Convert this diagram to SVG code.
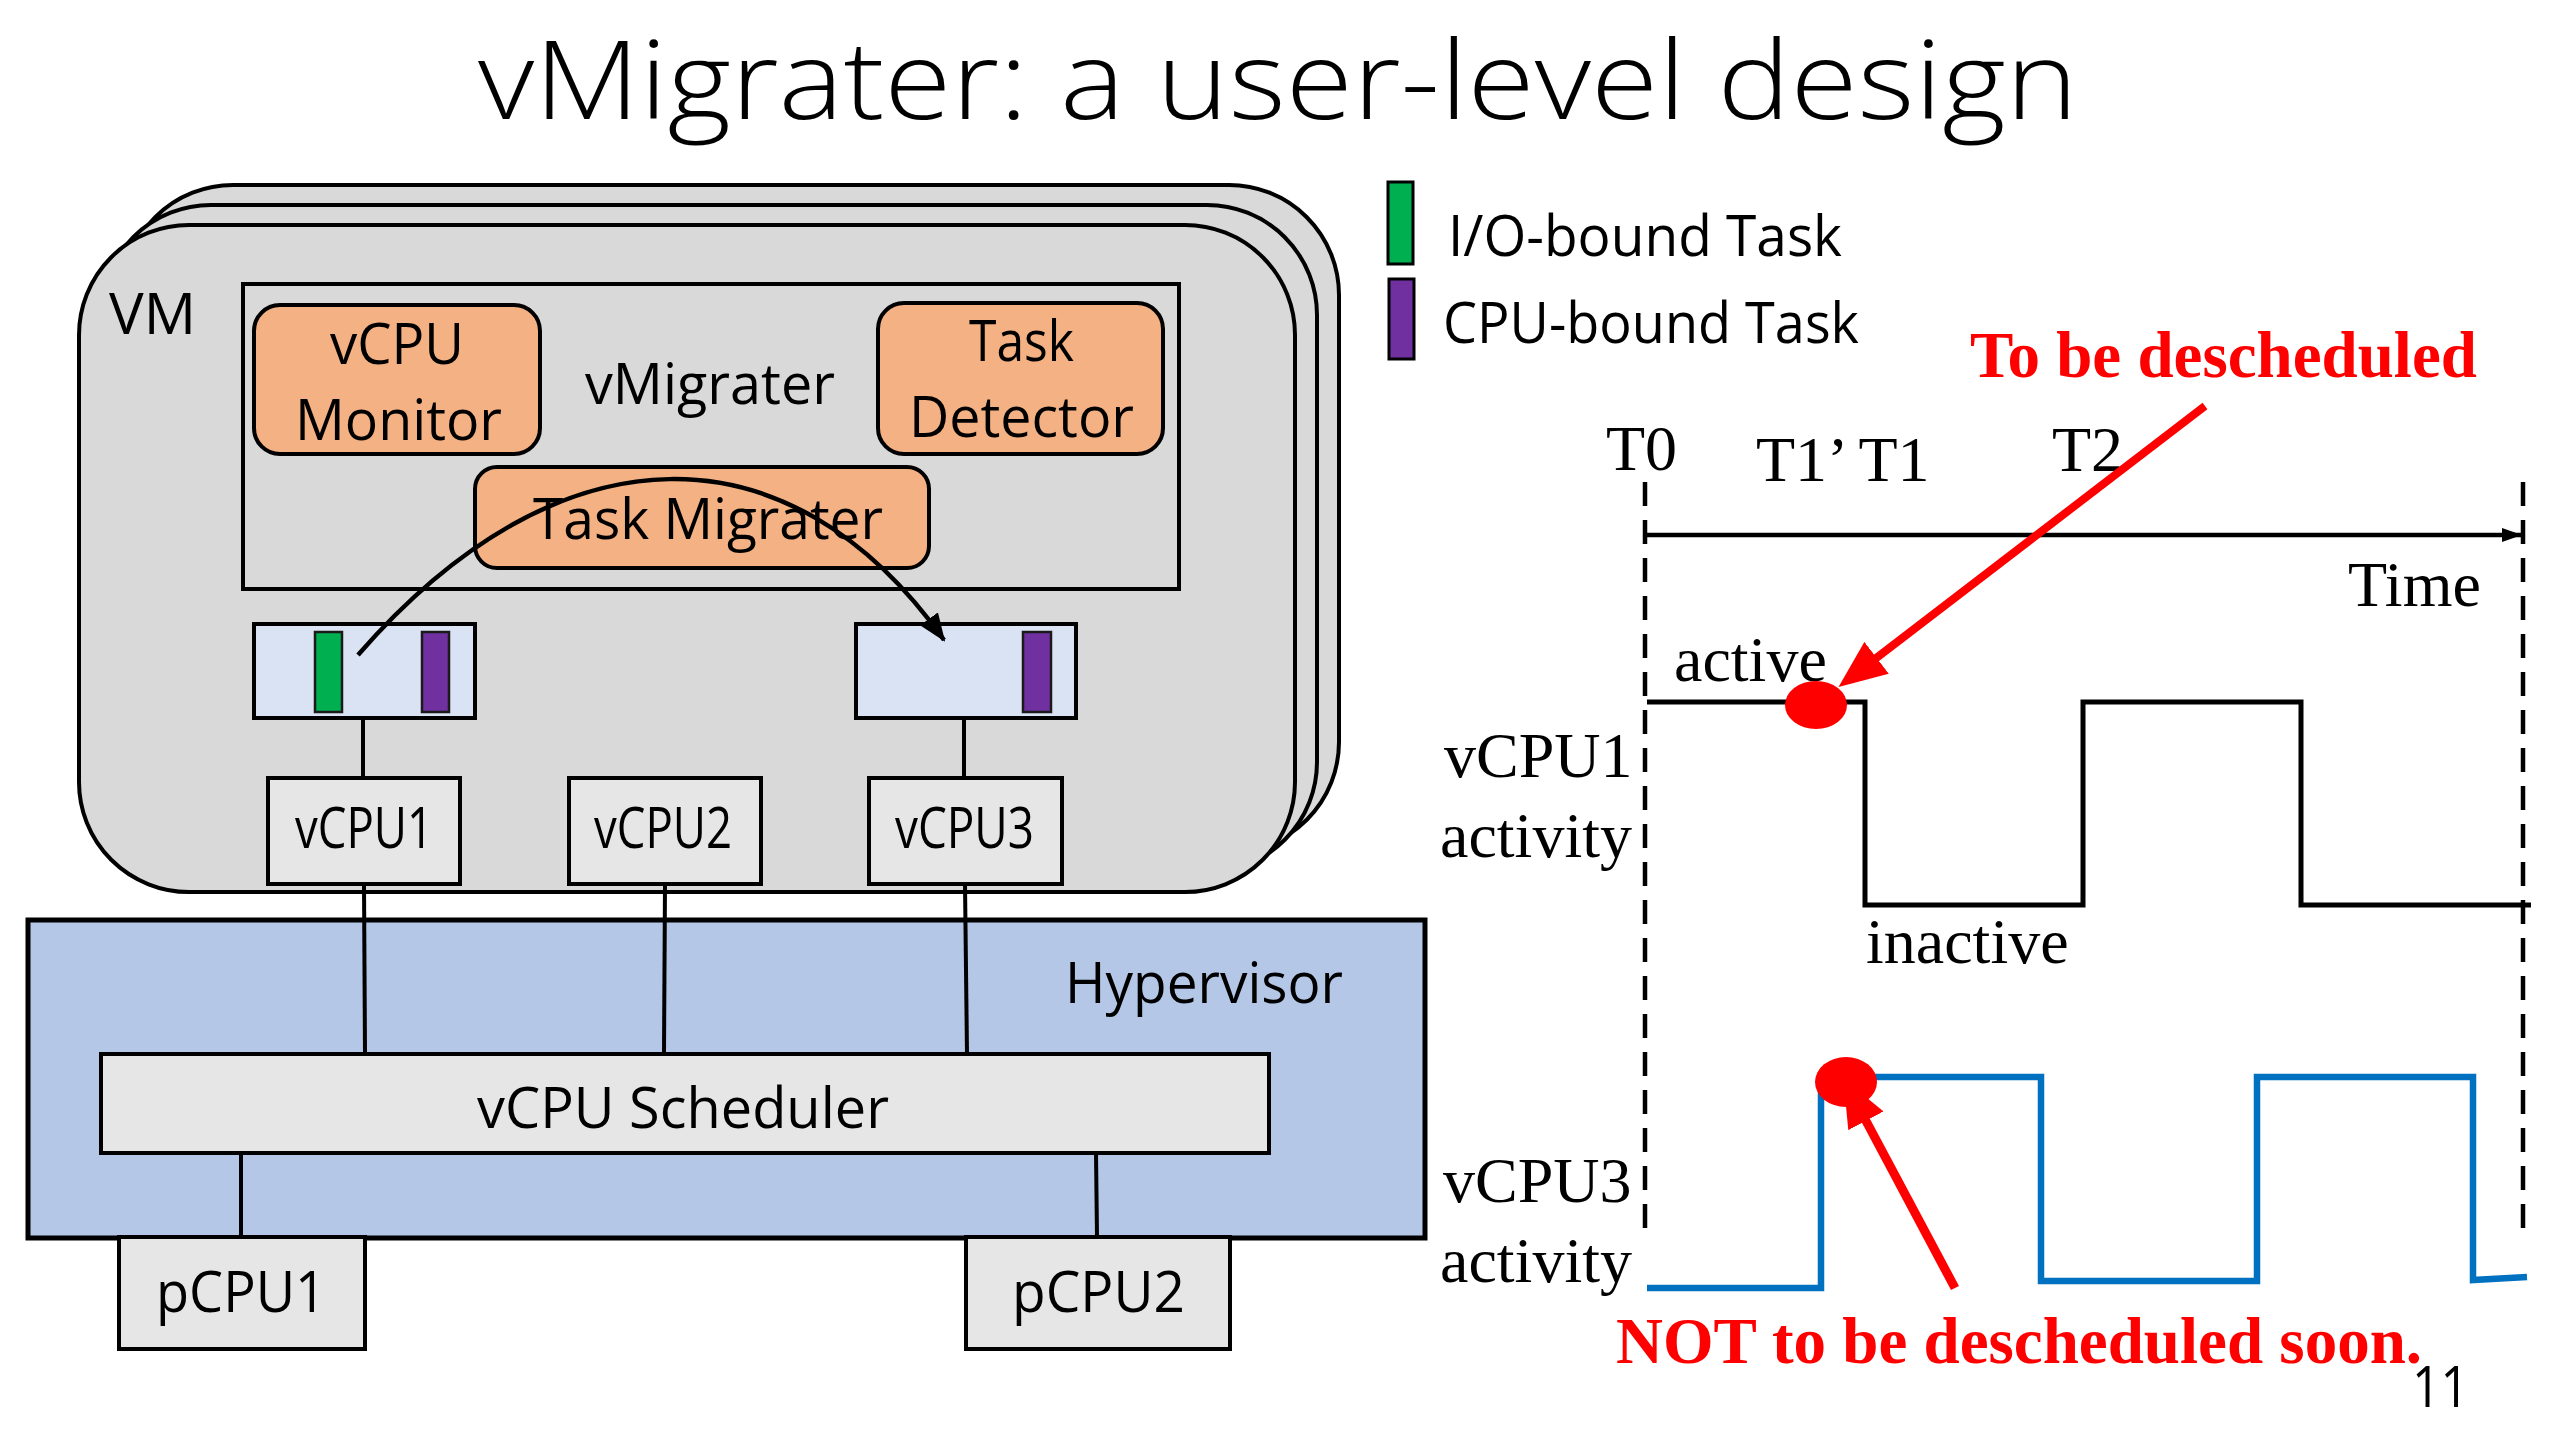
<svg xmlns="http://www.w3.org/2000/svg" width="2560" height="1440" viewBox="0 0 2560 1440">
<defs>
<style>
.sans{font-family:"Open Sans","Liberation Sans",sans-serif;font-size:57px;fill:#000}
.title{font-family:"Open Sans","Liberation Sans",sans-serif;font-size:108px;font-weight:300;fill:#000}
.serif{font-family:"Liberation Serif","Times New Roman",serif;font-size:64px;fill:#000}
.red{font-family:"Liberation Serif","Times New Roman",serif;font-size:65px;font-weight:bold;fill:#FF0000}
.vm{fill:#D9D9D9;stroke:#000;stroke-width:4}
.orange{fill:#F4B183;stroke:#000;stroke-width:4}
.queue{fill:#DAE3F3;stroke:#000;stroke-width:4}
.grey{fill:#E7E6E6;stroke:#000;stroke-width:4}
.line{fill:none;stroke:#000;stroke-width:4}
.dash{fill:none;stroke:#000;stroke-width:4.5;stroke-dasharray:24 14}
.green{fill:#00B050;stroke:#1a1a1a;stroke-width:2.5}
.purple{fill:#7030A0;stroke:#1a1a1a;stroke-width:2.5}
</style>
<marker id="blackHead" markerUnits="userSpaceOnUse" markerWidth="28" markerHeight="22" viewBox="0 0 28 22" refX="26" refY="11" orient="auto">
<path d="M0,0 L28,11 L0,22 z" fill="#000"/>
</marker>
<marker id="smallHead" markerUnits="userSpaceOnUse" markerWidth="20" markerHeight="14" viewBox="0 0 20 14" refX="19" refY="7" orient="auto">
<path d="M0,0 L20,7 L0,14 z" fill="#000"/>
</marker>
<marker id="redHead" markerUnits="userSpaceOnUse" markerWidth="48" markerHeight="40" viewBox="0 0 48 40" refX="2" refY="20" orient="auto">
<path d="M0,0 L48,20 L0,40 z" fill="#FF0000"/>
</marker>
</defs>

<rect width="2560" height="1440" fill="#FFFFFF"/>

<text id="title" class="title" x="478" y="119" textLength="1600" lengthAdjust="spacingAndGlyphs">vMigrater: a user-level design</text>

<g id="vm">
<rect class="vm" x="123" y="185" width="1216" height="667" rx="110" ry="110"/>
<rect class="vm" x="101" y="205" width="1216" height="667" rx="110" ry="110"/>
<rect class="vm" x="79" y="225" width="1216" height="667" rx="110" ry="110"/>
<text class="sans" x="109" y="334" textLength="87" lengthAdjust="spacingAndGlyphs">VM</text>
</g>

<g id="hypervisor">
<rect x="28" y="920" width="1397" height="318" fill="#B4C7E7" stroke="#000" stroke-width="5"/>
<text class="sans" x="1065" y="1003" textLength="278" lengthAdjust="spacingAndGlyphs">Hypervisor</text>
</g>

<g id="connectors">
<line class="line" x1="363" y1="718" x2="363" y2="778"/>
<line class="line" x1="964" y1="718" x2="964" y2="778"/>
<line class="line" x1="364" y1="884" x2="365" y2="1054"/>
<line class="line" x1="665" y1="884" x2="664" y2="1054"/>
<line class="line" x1="965" y1="884" x2="967" y2="1054"/>
<line class="line" x1="241" y1="1153" x2="241" y2="1237"/>
<line class="line" x1="1096" y1="1153" x2="1097" y2="1237"/>
</g>

<g id="vmigrater">
<rect class="vm" x="243" y="284" width="936" height="305"/>
<text class="sans" x="585" y="404" textLength="250" lengthAdjust="spacingAndGlyphs">vMigrater</text>
</g>

<g id="vcpu-monitor">
<rect class="orange" x="254" y="305" width="286" height="149" rx="26" ry="26"/>
<text class="sans" x="330" y="364" textLength="134" lengthAdjust="spacingAndGlyphs">vCPU</text>
<text class="sans" x="295" y="440" textLength="207" lengthAdjust="spacingAndGlyphs">Monitor</text>
</g>

<g id="task-detector">
<rect class="orange" x="878" y="303" width="285" height="151" rx="26" ry="26"/>
<text class="sans" x="969" y="361" textLength="105" lengthAdjust="spacingAndGlyphs">Task</text>
<text class="sans" x="909" y="437" textLength="225" lengthAdjust="spacingAndGlyphs">Detector</text>
</g>

<g id="task-migrater">
<rect class="orange" x="475" y="467" width="454" height="101" rx="22" ry="22"/>
<text class="sans" x="533" y="539" textLength="350" lengthAdjust="spacingAndGlyphs">Task Migrater</text>
</g>

<g id="queue1">
<rect class="queue" x="254" y="624" width="221" height="94"/>
<rect class="green" x="315" y="632" width="27" height="80"/>
<rect class="purple" x="422" y="632" width="27" height="80"/>
</g>

<g id="queue3">
<rect class="queue" x="856" y="624" width="220" height="94"/>
<rect class="purple" x="1023" y="632" width="28" height="80"/>
</g>

<g id="migration-arrow">
<path fill="none" stroke="#000" stroke-width="4.5" d="M358,655 C560,423 790,423 944,640" marker-end="url(#blackHead)"/>
</g>

<g id="vcpu1">
<rect class="grey" x="268" y="778" width="192" height="106"/>
<text class="sans" x="295" y="848" textLength="138" lengthAdjust="spacingAndGlyphs">vCPU1</text>
</g>
<g id="vcpu2">
<rect class="grey" x="569" y="778" width="192" height="106"/>
<text class="sans" x="594" y="848" textLength="138" lengthAdjust="spacingAndGlyphs">vCPU2</text>
</g>
<g id="vcpu3">
<rect class="grey" x="869" y="778" width="193" height="106"/>
<text class="sans" x="895" y="848" textLength="139" lengthAdjust="spacingAndGlyphs">vCPU3</text>
</g>

<g id="vcpu-scheduler">
<rect class="grey" x="101" y="1054" width="1168" height="99"/>
<text class="sans" x="477" y="1128" textLength="412" lengthAdjust="spacingAndGlyphs">vCPU Scheduler</text>
</g>

<g id="pcpu1">
<rect class="grey" x="119" y="1237" width="246" height="112"/>
<text class="sans" x="156" y="1312" textLength="170" lengthAdjust="spacingAndGlyphs">pCPU1</text>
</g>
<g id="pcpu2">
<rect class="grey" x="966" y="1237" width="264" height="112"/>
<text class="sans" x="1012" y="1312" textLength="173" lengthAdjust="spacingAndGlyphs">pCPU2</text>
</g>

<g id="legend">
<rect x="1388" y="182" width="25" height="82" fill="#00B050" stroke="#000" stroke-width="3"/>
<rect x="1389" y="279" width="25" height="80" fill="#7030A0" stroke="#000" stroke-width="3"/>
<text class="sans" x="1448" y="256" textLength="394" lengthAdjust="spacingAndGlyphs">I/O-bound Task</text>
<text class="sans" x="1443" y="343" textLength="416" lengthAdjust="spacingAndGlyphs">CPU-bound Task</text>
</g>

<g id="timeline">
<line class="dash" x1="1645" y1="482" x2="1645" y2="1232"/>
<line class="dash" x1="2523" y1="482" x2="2523" y2="1232"/>
<line x1="1645" y1="535" x2="2521" y2="535" stroke="#000" stroke-width="4.5" marker-end="url(#smallHead)"/>
<text class="serif" x="1606" y="470">T0</text>
<text class="serif" x="1756" y="481">T1’ T1</text>
<text class="serif" x="2052" y="471">T2</text>
<text class="serif" x="2348" y="606">Time</text>
</g>

<g id="vcpu1-activity">
<path d="M1647,702 H1865 V905 H2083 V702 H2301 V905 H2531" fill="none" stroke="#000" stroke-width="5"/>
<text class="serif" x="1674" y="681">active</text>
<text class="serif" x="1866" y="963">inactive</text>
<text class="serif" x="1444" y="777">vCPU1</text>
<text class="serif" x="1440" y="857">activity</text>
</g>

<g id="vcpu3-activity">
<path d="M1647,1288 H1821 V1077 H2041 V1281 H2257 V1077 H2473 V1280 L2527,1277" fill="none" stroke="#0070C0" stroke-width="6.5"/>
<text class="serif" x="1443" y="1202">vCPU3</text>
<text class="serif" x="1440" y="1282">activity</text>
</g>

<g id="annotations">
<line x1="2205" y1="406" x2="1875" y2="659" stroke="#FF0000" stroke-width="8" marker-end="url(#redHead)"/>
<ellipse cx="1816" cy="705" rx="31" ry="24" fill="#FF0000"/>
<text class="red" x="1970" y="377">To be descheduled</text>
<line x1="1955" y1="1288" x2="1865" y2="1119" stroke="#FF0000" stroke-width="9" marker-end="url(#redHead)"/>
<ellipse cx="1846" cy="1082" rx="31" ry="25" fill="#FF0000"/>
<text class="red" x="1616" y="1363">NOT to be descheduled soon.</text>
</g>

<text id="page-number" class="sans" x="2412" y="1407" textLength="57" lengthAdjust="spacingAndGlyphs">11</text>
</svg>
